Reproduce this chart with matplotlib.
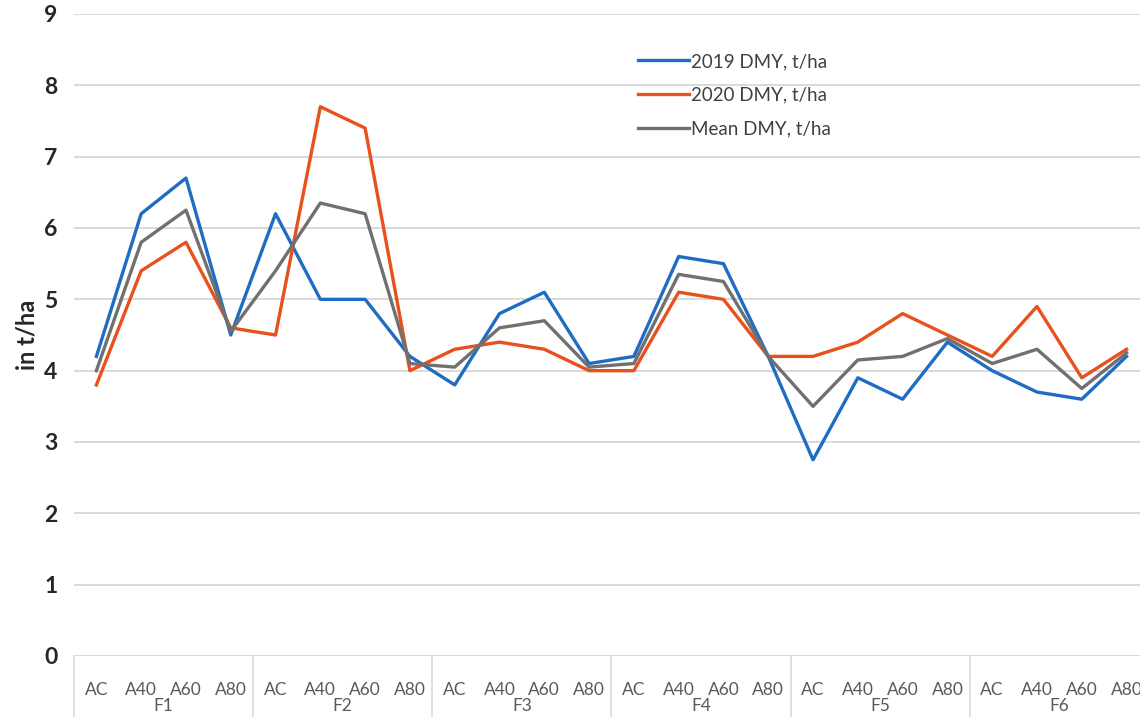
"""Dry matter yield per treatment, 2019 / 2020 / mean."""

import numpy
from matplotlib import pyplot

# Data.
groups = ['F1', 'F2', 'F3', 'F4', 'F5', 'F6']
levels = ['AC', 'A40', 'A60', 'A80']
dmy_2019 = [4.2, 6.2, 6.7, 4.5,
            6.2, 5.0, 5.0, 4.2,
            3.8, 4.8, 5.1, 4.1,
            4.2, 5.6, 5.5, 4.2,
            2.75, 3.9, 3.6, 4.4,
            4.0, 3.7, 3.6, 4.2]
dmy_2020 = [3.8, 5.4, 5.8, 4.6,
            4.5, 7.7, 7.4, 4.0,
            4.3, 4.4, 4.3, 4.0,
            4.0, 5.1, 5.0, 4.2,
            4.2, 4.4, 4.8, 4.5,
            4.2, 4.9, 3.9, 4.3]
dmy_mean = [4.0, 5.8, 6.25, 4.55,
            5.4, 6.35, 6.2, 4.1,
            4.05, 4.6, 4.7, 4.05,
            4.1, 5.35, 5.25, 4.2,
            3.5, 4.15, 4.2, 4.45,
            4.1, 4.3, 3.75, 4.25]

pyplot.rc('font', family=['Lato', 'DejaVu Sans'])

fig = pyplot.figure(figsize=(11.4, 7.17), dpi=100)
ax = fig.add_axes([74 / 1140, 1 - 656 / 717, 1 - 74 / 1140, (656 - 14) / 717])

x = numpy.arange(len(dmy_2019))
ax.plot(x, dmy_2019, color='#1f6cc4', lw=2.4, label='2019 DMY, t/ha')
ax.plot(x, dmy_2020, color='#e8501c', lw=2.4, label='2020 DMY, t/ha')
ax.plot(x, dmy_mean, color='#707070', lw=2.4, label='Mean DMY, t/ha')

# The last group is cut at the right edge, as in the source figure.
ax.set_xlim(-0.5, 23.3)
ax.set_ylim(0, 9)
ax.set_yticks(range(10))
ax.grid(axis='y', color='#d9d9d9', lw=1.4)
ax.set_axisbelow(True)
for side in ['top', 'right', 'left', 'bottom']:
    ax.spines[side].set_visible(False)
ax.tick_params(axis='y', length=0, pad=12, labelsize=16.5, labelcolor='#262626')
for lab in ax.get_yticklabels():
    lab.set_fontweight('bold')
ax.set_ylabel('in t/ha', fontsize=17, fontweight='bold', color='#262626',
              labelpad=4)

# Category labels and group labels below the axis.
ax.set_xticks(x)
ax.set_xticklabels(levels * len(groups))
ax.tick_params(axis='x', length=0, pad=19, labelsize=12.5, labelcolor='#595959')
trans = ax.get_xaxis_transform()
for i, g in enumerate(groups):
    ax.text(4 * i + 1.5, -0.078, g, transform=trans, ha='center', va='center',
            fontsize=12.5, color='#595959')
for i in range(len(groups) + 1):
    ax.plot([4 * i - 0.5] * 2, [0, -0.1], transform=trans, color='#d9d9d9',
            lw=1.2, clip_on=False)

ax.legend(loc='upper left', bbox_to_anchor=(621 / 1140, 1 - 36 / 717),
          bbox_transform=fig.transFigure, frameon=False, fontsize=13.5,
          handlelength=2.7, handletextpad=0.15, labelspacing=0.9,
          labelcolor='#404040')

fig.savefig('out.png', dpi=100)
